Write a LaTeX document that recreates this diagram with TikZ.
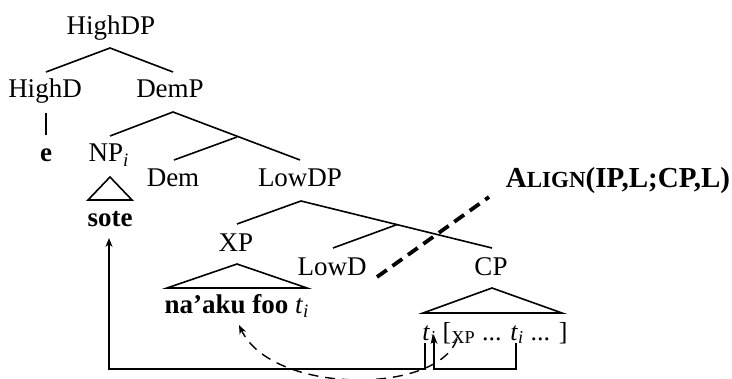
\documentclass[tikz,border=0pt]{standalone}
\usepackage{fontspec}
\setmainfont{Liberation Serif}
\usetikzlibrary{arrows.meta}
\begin{document}
\begin{tikzpicture}[x=0.5pt,y=-0.5pt,
  lbl/.style={anchor=base,inner sep=0pt,font=\fontsize{13.5}{15}\selectfont},
  br/.style={line width=0.8pt},
  mv/.style={line width=0.8pt,-{Stealth[length=4.5pt,width=3.5pt,inset=1.5pt]}},
  dmv/.style={line width=0.7pt,dash pattern=on 5pt off 3.5pt,-{Stealth[length=4.5pt,width=3.5pt,inset=1.5pt]}},
  bound/.style={line width=1.9pt,dash pattern=on 6pt off 3.5pt}]
\useasboundingbox (0,0) rectangle (732,379);
% labels
\node[lbl] (hdp) at (111,35) {HighDP};
\node[lbl] (hd) at (45,98) {HighD};
\node[lbl] (demp) at (170,98) {DemP};
\node[lbl] (e) at (46,162) {\textbf{e}};
\node[lbl] (np) at (109,162) {NP\textsubscript{\textit{i}}};
\node[lbl] (dem) at (173,187) {Dem};
\node[lbl] (lowdp) at (300,187) {LowDP};
\node[lbl] (sote) at (110,227) {\textbf{sote}};
\node[lbl] (xp) at (236,251) {XP};
\node[lbl] (lowd) at (332,275) {LowD};
\node[lbl] (cp) at (491,275) {CP};
\node[lbl] (naaku) at (237,313) {\textbf{na’aku foo} \textit{t}\textsubscript{\textit{i}}};
\node[lbl,anchor=base west,font=\fontsize{13}{15}\selectfont] (cpt) at (422,340) {\textit{t}\textsubscript{\textit{i}} [\textsubscript{XP} ... \textit{t}\textsubscript{\textit{i}} ... ]};
\node[lbl,font=\fontsize{14.5}{16}\selectfont] (align) at (618,188) {\textbf{A{\fontsize{11.5}{13}\selectfont LIGN}(IP,L;CP,L)}};
% branch coordinates
\coordinate (a1) at (110,48);
\coordinate (a1l) at (46,72);
\coordinate (a1r) at (173,72);
\coordinate (hdb) at (46,113);
\coordinate (hde) at (46,135);
\coordinate (a2) at (173,112);
\coordinate (a2l) at (110,136);
\coordinate (a2r) at (300,160);
\coordinate (a2m) at (237,137);
\coordinate (a2d) at (174,160);
\coordinate (t1) at (110,177);
\coordinate (t1l) at (88,200);
\coordinate (t1r) at (132,200);
\coordinate (a3) at (301,201);
\coordinate (a3l) at (237,224);
\coordinate (a3r) at (492,248);
\coordinate (a3m) at (397,224.6);
\coordinate (a3d) at (333,248);
\coordinate (t2) at (237,264);
\coordinate (t2l) at (167,288);
\coordinate (t2r) at (307,288);
\coordinate (t3) at (492,288);
\coordinate (t3l) at (423,313);
\coordinate (t3r) at (562,313);
% tree
\draw[br] (a1l) -- (a1) -- (a1r);
\draw[br] (hdb) -- (hde);
\draw[br] (a2l) -- (a2) -- (a2r);
\draw[br] (a2m) -- (a2d);
\draw[br] (t1l) -- (t1) -- (t1r) -- cycle;
\draw[br] (a3l) -- (a3) -- (a3r);
\draw[br] (a3m) -- (a3d);
\draw[br] (t2l) -- (t2) -- (t2r) -- cycle;
\draw[br] (t3l) -- (t3) -- (t3r) -- cycle;
% alignment boundary
\coordinate (b1) at (377,277);
\coordinate (b2) at (489,197);
\draw[bound] (b1) -- (b2);
% movement
\coordinate (m1) at (425,343);
\coordinate (m1b) at (425,369);
\coordinate (m1c) at (109,369);
\coordinate (m1t) at (109,238);
\draw[mv] (m1) -- (m1b) -- (m1c) -- (m1t);
\coordinate (m2) at (516,343);
\coordinate (m2b) at (516,369);
\coordinate (m2c) at (434,369);
\coordinate (m2t) at (434,335);
\draw[mv] (m2) -- (m2b) -- (m2c) -- (m2t);
\coordinate (d1) at (457,339);
\coordinate (d2) at (239,325);
\draw[dmv] (d1) .. controls (438,395) and (272,395) .. (d2);
\end{tikzpicture}
\end{document}
